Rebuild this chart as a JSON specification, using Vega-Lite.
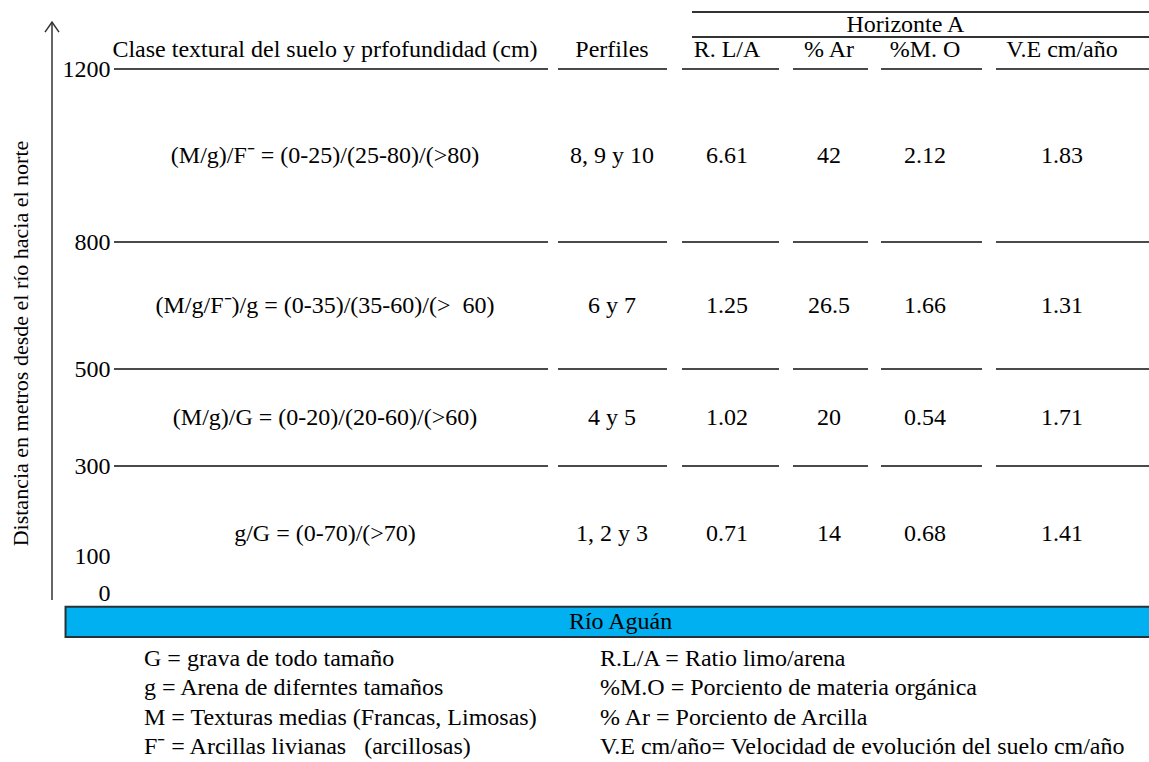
{
  "$schema": "https://vega.github.io/schema/vega-lite/v6.json",
  "width": 1036,
  "height": 762,
  "autosize": {"type": "none"},
  "padding": {"left": 113, "top": 0, "right": 0, "bottom": 0},
  "background": "white",
  "config": {
    "view": {"stroke": null},
    "font": "Liberation Serif",
    "text": {"font": "Liberation Serif", "fontSize": 24, "color": "#000"}
  },
  "datasets": {
    "estratos": [
      {"d0": 800, "d1": 1200, "textura": "(M/g)/F⁻ = (0-25)/(25-80)/(>80)", "perfiles": "8, 9 y 10", "rla": 6.61, "ar": 42, "mo": 2.12, "ve": 1.83},
      {"d0": 500, "d1": 800, "textura": "(M/g/F⁻)/g = (0-35)/(35-60)/(> \u00a060)", "perfiles": "6 y 7", "rla": 1.25, "ar": 26.5, "mo": 1.66, "ve": 1.31},
      {"d0": 300, "d1": 500, "textura": "(M/g)/G = (0-20)/(20-60)/(>60)", "perfiles": "4 y 5", "rla": 1.02, "ar": 20, "mo": 0.54, "ve": 1.71},
      {"d0": 0, "d1": 300, "textura": "g/G = (0-70)/(>70)", "perfiles": "1, 2 y 3", "rla": 0.71, "ar": 14, "mo": 0.68, "ve": 1.41}
    ],
    "columnas": [
      {"clave": "textura", "col": 1, "encabezado": "Clase textural del suelo y prfofundidad (cm)"},
      {"clave": "perfiles", "col": 2, "encabezado": "Perfiles"},
      {"clave": "rla", "col": 3, "encabezado": "R. L/A"},
      {"clave": "ar", "col": 4, "encabezado": "% Ar"},
      {"clave": "mo", "col": 5, "encabezado": "%M. O"},
      {"clave": "ve", "col": 6, "encabezado": "V.E cm/año"}
    ],
    "grupo": [{"nombre": "Horizonte A", "desde": 3, "hasta": 6}],
    "rio": [{"nombre": "Río Aguán"}],
    "leyenda": [
      {"lado": "izq", "fila": 0, "texto": "G = grava de todo tamaño"},
      {"lado": "izq", "fila": 1, "texto": "g = Arena de diferntes tamaños"},
      {"lado": "izq", "fila": 2, "texto": "M = Texturas medias (Francas, Limosas)"},
      {"lado": "izq", "fila": 3, "texto": "F⁻ = Arcillas livianas \u00a0 (arcillosas)"},
      {"lado": "der", "fila": 0, "texto": "R.L/A = Ratio limo/arena"},
      {"lado": "der", "fila": 1, "texto": "%M.O = Porciento de materia orgánica"},
      {"lado": "der", "fila": 2, "texto": "% Ar = Porciento de Arcilla"},
      {"lado": "der", "fila": 3, "texto": "V.E cm/año= Velocidad de evolución del suelo cm/año"}
    ]
  },
  "layer": [
    {
      "data": {"name": "estratos"},
      "transform": [
        {"fold": ["textura", "perfiles", "rla", "ar", "mo", "ve"], "as": ["clave", "valor"]},
        {"lookup": "clave", "from": {"data": {"name": "columnas"}, "key": "clave", "fields": ["col"]}},
        {"calculate": "datum.col - 0.45", "as": "x0"},
        {"calculate": "datum.col + 0.45", "as": "x1"}
      ],
      "mark": {"type": "rule", "stroke": "#4a4a4a", "strokeWidth": 2},
      "encoding": {
        "x": {"field": "x0", "type": "quantitative", "axis": null,
          "scale": {"type": "linear", "nice": false, "zero": false,
            "domain": [0, 0.55, 1, 1.45, 1.55, 2, 2.45, 2.55, 3, 3.45, 3.55, 4, 4.45, 4.55, 5, 5.45, 5.55, 6, 6.45],
            "range": [-61, 1, 212, 435, 445, 499, 554, 569, 614, 666, 680, 716, 755, 768, 812, 869, 883, 949, 1036]}},
        "x2": {"field": "x1"},
        "y": {"field": "d1", "type": "quantitative",
          "scale": {"type": "linear", "nice": false, "zero": false,
            "domain": [-500, 0, 100, 300, 500, 800, 1200, 1400],
            "range": [762, 593, 556, 466, 369, 242, 69, 0]},
          "axis": {
            "title": "Distancia en metros desde el río hacia el norte",
            "values": [0, 100, 300, 500, 800, 1200],
            "format": "d",
            "domain": false,
            "ticks": false,
            "grid": false,
            "labelPadding": 3,
            "labelFont": "Liberation Serif",
            "labelFontSize": 24,
            "labelColor": "#000",
            "titleFont": "Liberation Serif",
            "titleFontSize": 22,
            "titleFontWeight": "normal",
            "titleColor": "#000",
            "titleX": -93,
            "titleY": 343,
            "titleAngle": 270,
            "titleAlign": "center",
            "titleBaseline": "middle"
          }}
      }
    },
    {
      "data": {"name": "estratos"},
      "transform": [
        {"fold": ["textura", "perfiles", "rla", "ar", "mo", "ve"], "as": ["clave", "valor"]},
        {"lookup": "clave", "from": {"data": {"name": "columnas"}, "key": "clave", "fields": ["col"]}},
        {"calculate": "(datum.d0 + datum.d1) / 2", "as": "medio"}
      ],
      "mark": {"type": "text", "fontSize": 24, "color": "#000"},
      "encoding": {
        "x": {"field": "col", "type": "quantitative", "axis": null},
        "y": {"field": "medio", "type": "quantitative"},
        "text": {"field": "valor", "type": "nominal"}
      }
    },
    {
      "data": {"name": "columnas"},
      "mark": {"type": "text", "fontSize": 24, "color": "#000"},
      "encoding": {
        "x": {"field": "col", "type": "quantitative", "axis": null},
        "y": {"datum": 1255, "type": "quantitative"},
        "text": {"field": "encabezado", "type": "nominal"}
      }
    },
    {
      "data": {"name": "grupo"},
      "transform": [
        {"calculate": "datum.desde - 0.35", "as": "g0"},
        {"calculate": "datum.hasta + 0.45", "as": "g1"}
      ],
      "layer": [
        {
          "mark": {"type": "rule", "stroke": "#333", "strokeWidth": 2},
          "encoding": {
            "x": {"field": "g0", "type": "quantitative", "axis": null},
            "x2": {"field": "g1"},
            "y": {"datum": 1365, "type": "quantitative"}
          }
        },
        {
          "mark": {"type": "rule", "stroke": "#333", "strokeWidth": 2},
          "encoding": {
            "x": {"field": "g0", "type": "quantitative", "axis": null},
            "x2": {"field": "g1"},
            "y": {"datum": 1293, "type": "quantitative"}
          }
        },
        {
          "mark": {"type": "text", "fontSize": 24, "color": "#000"},
          "encoding": {
            "x": {"datum": 4.8, "type": "quantitative", "axis": null},
            "y": {"datum": 1328, "type": "quantitative"},
            "text": {"field": "nombre", "type": "nominal"}
          }
        }
      ]
    },
    {
      "data": {"name": "rio"},
      "layer": [
        {
          "mark": {"type": "rect", "fill": "#00B0F0", "stroke": "#263238", "strokeWidth": 2},
          "encoding": {
            "x": {"datum": 0.12, "type": "quantitative", "axis": null},
            "x2": {"datum": 6.5},
            "y": {"datum": -41, "type": "quantitative"},
            "y2": {"datum": -130}
          }
        },
        {
          "mark": {"type": "text", "fontSize": 24, "color": "#000"},
          "encoding": {
            "x": {"datum": 2.07, "type": "quantitative", "axis": null},
            "y": {"datum": -86, "type": "quantitative"},
            "text": {"field": "nombre", "type": "nominal"}
          }
        }
      ]
    },
    {
      "data": {"name": "leyenda"},
      "transform": [
        {"calculate": "datum.lado == 'izq' ? 0.614 : 1.9", "as": "lx"},
        {"calculate": "-195 - datum.fila * 87", "as": "ly"}
      ],
      "mark": {"type": "text", "fontSize": 24, "color": "#000", "align": "left"},
      "encoding": {
        "x": {"field": "lx", "type": "quantitative", "axis": null},
        "y": {"field": "ly", "type": "quantitative"},
        "text": {"field": "texto", "type": "nominal"}
      }
    },
    {
      "data": {"values": [{"eje": "norte"}]},
      "layer": [
        {
          "mark": {"type": "rule", "stroke": "#333", "strokeWidth": 1.5},
          "encoding": {
            "x": {"datum": 0, "type": "quantitative", "axis": null},
            "y": {"datum": -21, "type": "quantitative"},
            "y2": {"datum": 1336}
          }
        },
        {
          "mark": {"type": "point", "shape": "M-1,0.45L0,-1L1,0.45", "filled": false, "stroke": "#333", "strokeWidth": 1.5, "size": 196, "opacity": 1},
          "encoding": {
            "x": {"datum": 0, "type": "quantitative", "axis": null},
            "y": {"datum": 1316, "type": "quantitative"}
          }
        }
      ]
    }
  ]
}
